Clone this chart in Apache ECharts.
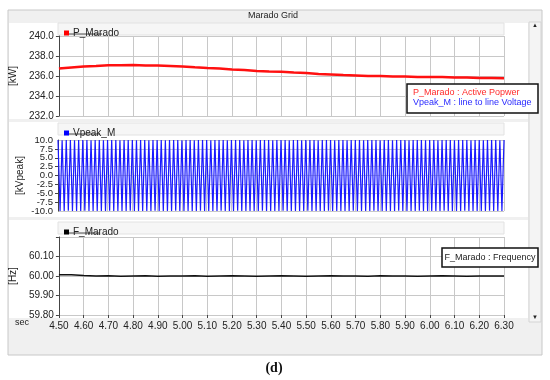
<!DOCTYPE html>
<html>
<head>
<meta charset="utf-8">
<script src="https://cdn.jsdelivr.net/npm/echarts@6/dist/echarts.min.js"></script>
<style>html,body{margin:0;padding:0;background:#fff}#c{width:550px;height:380px}</style>
</head>
<body>
<div id="c"></div>
<script>
// ---------- DATA ----------
const xTickValues = [4.5, 4.6, 4.7, 4.8, 4.9, 5.0, 5.1, 5.2, 5.3, 5.4, 5.5, 5.6, 5.7, 5.8, 5.9, 6.0, 6.1, 6.2, 6.3];
const pTimes = [4.50,4.55,4.60,4.65,4.70,4.75,4.80,4.85,4.90,4.95,5.00,5.05,5.10,5.15,5.20,5.25,5.30,5.35,5.40,5.45,5.50,5.55,5.60,5.65,5.70,5.75,5.80,5.85,5.90,5.95,6.00,6.05,6.10,6.15,6.20,6.25,6.30];
const pMarado = [236.75,236.85,236.95,237.00,237.07,237.08,237.10,237.06,237.05,237.00,236.95,236.87,236.80,236.74,236.66,236.60,236.51,236.46,236.42,236.35,236.30,236.21,236.16,236.10,236.06,236.01,236.00,235.95,235.94,235.90,235.91,235.89,235.86,235.84,235.81,235.80,235.78];
const fMarado = [60.006,60.006,60.002,60.000,60.001,59.999,60.000,60.001,59.999,60.000,60.000,60.001,59.999,60.000,60.001,60.000,59.999,60.000,60.001,60.000,59.999,60.000,60.001,60.000,60.000,59.999,60.001,60.000,60.000,59.999,60.000,60.001,60.000,59.999,60.000,60.000,60.000];
// Vpeak_M sampled at its half-period peaks (60 Hz), starting at 4.50 s
const vStart = 4.5, vHalfPeriod = 1 / 120;
const vPeak = [
 10,-10,9.9,-10,10,-9.9,10,-10,9.9,-10,10,-10,10,-9.9,10,-10,9.9,-10,10,-10,
 10,-10,9.9,-10,10,-9.9,10,-10,10,-10,9.9,-10,10,-10,10,-9.9,10,-10,9.9,-10,
 10,-10,10,-10,9.9,-10,10,-9.9,10,-10,10,-10,9.9,-10,10,-10,10,-9.9,10,-10,
 9.9,-10,10,-10,10,-10,9.9,-10,10,-9.9,10,-10,10,-10,9.9,-10,10,-10,10,-9.9,
 10,-10,9.9,-10,10,-10,10,-9.9,10,-10,9.9,-10,10,-10,10,-10,9.9,-10,10,-9.9,
 10,-10,10,-10,9.9,-10,10,-10,10,-9.9,10,-10,9.9,-10,10,-10,10,-10,9.9,-10,
 10,-9.9,10,-10,10,-10,9.9,-10,10,-10,10,-9.9,10,-10,9.9,-10,10,-10,10,-10,
 9.9,-10,10,-9.9,10,-10,10,-10,9.9,-10,10,-10,10,-9.9,10,-10,9.9,-10,10,-10,
 10,-10,9.9,-10,10,-9.9,10,-10,10,-10,9.9,-10,10,-10,10,-9.9,10,-10,9.9,-10,
 10,-10,10,-10,9.9,-10,10,-9.9,10,-10,10,-10,9.9,-10,10,-10,10,-9.9,10,-10,
 9.9,-10,10,-10,10,-10,9.9,-10,10,-9.9,10,-10,10,-10,9.9,-10,10
];
const yTicksP = [232, 234, 236, 238, 240];
const yTicksV = [-10, -7.5, -5, -2.5, 0, 2.5, 5, 7.5, 10];
const yTicksF = [59.8, 59.9, 60.0, 60.1];

// ---------- CHART ----------
const FONT = 'Liberation Sans';
const chart = echarts.init(document.getElementById('c'), null, {renderer: 'canvas'});

const pData = pTimes.map((t, i) => [t, pMarado[i]]);
const fData = pTimes.map((t, i) => [t, fMarado[i]]);
const vData = vPeak.map((v, i) => [vStart + i * vHalfPeriod, v]);

const gridL = 58, gridW = 446;
const grids = [
  {left: gridL, width: gridW, top: 36, height: 80},
  {left: gridL, width: gridW, top: 140, height: 71},
  {left: gridL, width: gridW, top: 237, height: 78}
];
function xAx(idx, showLabels) {
  return {
    type: 'value', gridIndex: idx, min: xTickValues[0], max: xTickValues[xTickValues.length - 1], interval: 0.1,
    axisLine: {show: false},
    axisTick: {show: showLabels, length: 3, lineStyle: {color: '#444'}},
    axisLabel: {show: showLabels, fontFamily: FONT, fontSize: 10, color: '#222', margin: 6, formatter: v => v.toFixed(2),
      showMinLabel: true, showMaxLabel: true, hideOverlap: false},
    splitLine: {show: true, lineStyle: {color: '#c8c8c8', width: 1}}
  };
}
function yAx(idx, ticks, interval, dec, name, hideMax, nameGap, fs) {
  return {
    type: 'value', gridIndex: idx, position: 'left',
    min: ticks[0], max: hideMax ? ticks[ticks.length - 1] + interval : ticks[ticks.length - 1], interval: interval,
    name: name, nameLocation: 'middle', nameGap: nameGap, nameRotate: 90,
    nameTextStyle: {fontFamily: FONT, fontSize: 10, color: '#222'},
    axisLine: {show: true, lineStyle: {color: '#444', width: 1}},
    axisTick: {show: true, length: 3, lineStyle: {color: '#444'}},
    axisLabel: {fontFamily: FONT, fontSize: fs, color: '#222', margin: 5,
      showMinLabel: true, showMaxLabel: true, hideOverlap: false,
      formatter: v => (hideMax && v > ticks[ticks.length - 1] + interval / 2) ? '' : v.toFixed(dec)},
    splitLine: {show: true, lineStyle: {color: '#c8c8c8', width: 1}}
  };
}
// voltage axis: inner labels on the main axis, the two end labels on a label-only twin axis
const vMain = yAx(1, yTicksV, 2.5, 1, '[kVpeak]', false, 33, 9.5);
vMain.axisLabel.showMinLabel = false;
vMain.axisLabel.showMaxLabel = false;
const vEnds = {
  type: 'value', gridIndex: 1, position: 'left', min: yTicksV[0], max: yTicksV[yTicksV.length - 1],
  interval: yTicksV[yTicksV.length - 1] - yTicksV[0],
  axisLine: {show: false}, axisTick: {show: false}, splitLine: {show: false},
  axisLabel: {fontFamily: FONT, fontSize: 9.5, color: '#222', margin: 5, formatter: v => v.toFixed(1)}
};

const bg = [
  {type: 'rect', shape: {x: 8, y: 10, width: 534, height: 345}, style: {fill: '#f0f0f0', stroke: '#c8c8c8', lineWidth: 1}, z: -10},
  {type: 'rect', shape: {x: 9, y: 23, width: 519, height: 96}, style: {fill: '#ffffff'}, z: -9},
  {type: 'rect', shape: {x: 9, y: 122, width: 519, height: 95}, style: {fill: '#ffffff'}, z: -9},
  {type: 'rect', shape: {x: 9, y: 220, width: 519, height: 98}, style: {fill: '#ffffff'}, z: -9},
  {type: 'rect', shape: {x: 58, y: 23, width: 446, height: 12}, style: {fill: '#f6f6f6', stroke: '#e2e2e2', lineWidth: 1}, z: -8},
  {type: 'rect', shape: {x: 58, y: 123, width: 446, height: 12}, style: {fill: '#f6f6f6', stroke: '#e2e2e2', lineWidth: 1}, z: -8},
  {type: 'rect', shape: {x: 58, y: 222, width: 446, height: 12}, style: {fill: '#f6f6f6', stroke: '#e2e2e2', lineWidth: 1}, z: -8},
  // scrollbar
  {type: 'rect', shape: {x: 529, y: 22, width: 12, height: 300}, style: {fill: '#f4f4f4', stroke: '#d4d4d4', lineWidth: 1}, z: -7},
  {type: 'text', style: {text: '▲', x: 535, y: 25, fontSize: 6, fill: '#222', align: 'center', verticalAlign: 'middle'}, z: -6},
  {type: 'text', style: {text: '▼', x: 535, y: 317, fontSize: 6, fill: '#222', align: 'center', verticalAlign: 'middle'}, z: -6},
  // title
  {type: 'text', style: {text: 'Marado Grid', x: 273, y: 16, fontFamily: FONT, fontSize: 9, fill: '#222', align: 'center', verticalAlign: 'middle'}},
  {type: 'text', style: {text: 'sec', x: 22, y: 323, fontFamily: FONT, fontSize: 9, fill: '#222', align: 'center', verticalAlign: 'middle'}},
  // legend underlines
  {type: 'line', shape: {x1: 67, y1: 34, x2: 102, y2: 34}, style: {stroke: '#222', lineWidth: 0.8}},
  {type: 'line', shape: {x1: 67, y1: 134, x2: 100, y2: 134}, style: {stroke: '#222', lineWidth: 0.8}},
  {type: 'line', shape: {x1: 67, y1: 233, x2: 100, y2: 233}, style: {stroke: '#222', lineWidth: 0.8}},
  // annotation boxes
  {type: 'rect', shape: {x: 407, y: 84, width: 131, height: 29}, style: {fill: '#ffffff', stroke: '#111', lineWidth: 1.5}, z: 50},
  {type: 'text', style: {text: 'P_Marado : Active Popwer', x: 413, y: 93, fontFamily: FONT, fontSize: 9, fill: '#ff2a2a', verticalAlign: 'middle'}, z: 51},
  {type: 'text', style: {text: 'Vpeak_M : line to line Voltage', x: 413, y: 103, fontFamily: FONT, fontSize: 9, fill: '#2a2aff', verticalAlign: 'middle'}, z: 51},
  {type: 'rect', shape: {x: 442, y: 248, width: 96, height: 19}, style: {fill: '#ffffff', stroke: '#111', lineWidth: 1.5}, z: 50},
  {type: 'text', style: {text: 'F_Marado : Frequency', x: 490, y: 257.5, fontFamily: FONT, fontSize: 9, fill: '#222', align: 'center', verticalAlign: 'middle'}, z: 51},
  // caption
  {type: 'text', style: {text: '(d)', x: 274, y: 368, fontFamily: 'Liberation Serif', fontSize: 14, fontWeight: 'bold', fill: '#111', align: 'center', verticalAlign: 'middle'}}
];

const legendBase = {icon: 'rect', itemWidth: 5, itemHeight: 5, itemGap: 4, left: 59,
  textStyle: {fontFamily: FONT, fontSize: 10, color: '#222', padding: [0, 0, 0, -1]}, selectedMode: false};

chart.setOption({
  backgroundColor: '#ffffff',
  animation: false,
  grid: grids.map(g => Object.assign({show: true, backgroundColor: '#ffffff', borderWidth: 0}, g)),
  legend: [
    Object.assign({}, legendBase, {top: 23, data: ['P_Marado']}),
    Object.assign({}, legendBase, {top: 123, data: ['Vpeak_M']}),
    Object.assign({}, legendBase, {top: 222, data: ['F_Marado']})
  ],
  xAxis: [xAx(0, false), xAx(1, false), xAx(2, true)],
  yAxis: [
    yAx(0, yTicksP, 2, 1, '[kW]', false, 31, 10),
    vMain,
    yAx(2, yTicksF, 0.1, 2, '[Hz]', true, 31, 10),
    vEnds
  ],
  graphic: bg,
  series: [
    {name: 'P_Marado', type: 'line', xAxisIndex: 0, yAxisIndex: 0, data: pData, showSymbol: false, color: '#ff0000',
      lineStyle: {color: '#ff1010', width: 2.5}},
    {name: 'Vpeak_M', type: 'line', xAxisIndex: 1, yAxisIndex: 1, data: vData, showSymbol: false, color: '#0000ff',
      lineStyle: {color: '#1a1aff', width: 1.2}},
    {name: 'F_Marado', type: 'line', xAxisIndex: 2, yAxisIndex: 2, data: fData, showSymbol: false, color: '#000000',
      lineStyle: {color: '#111', width: 1.5}}
  ]
});
</script>
</body>
</html>
